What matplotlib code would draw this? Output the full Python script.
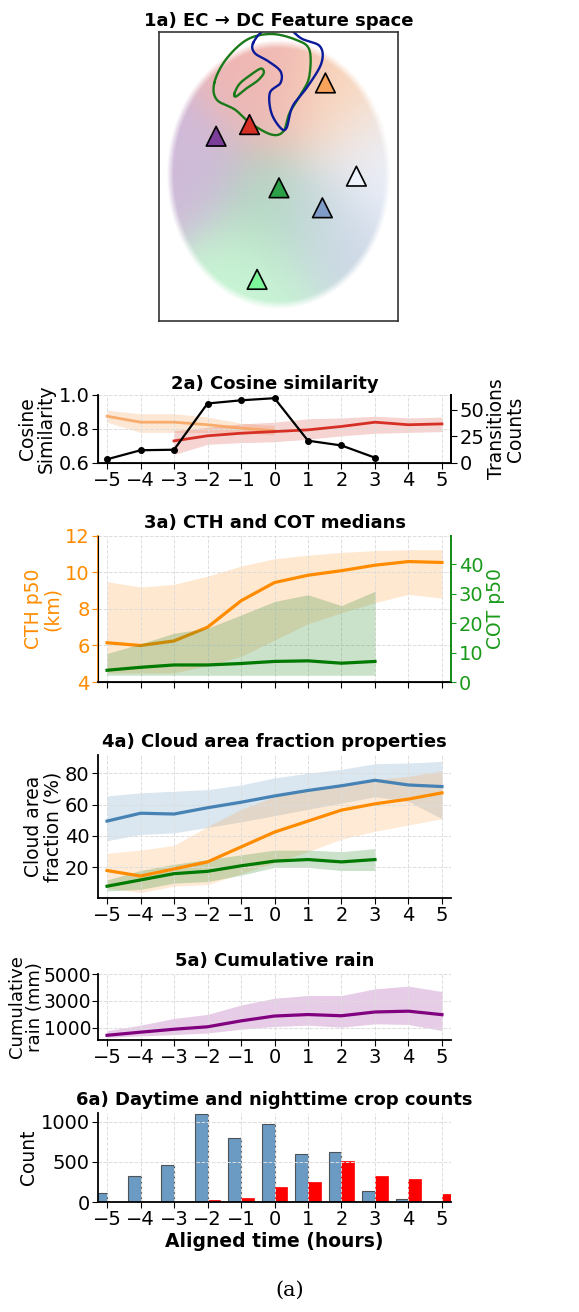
import numpy as np
import matplotlib
matplotlib.use("Agg")
import matplotlib.pyplot as plt
from matplotlib.colors import to_rgb

W, H = 579, 1312
fig = plt.figure(figsize=(W/100, H/100), dpi=100)
plt.rcParams['font.family'] = ['DejaVu Sans']
TS, TK, LB = 13, 14, 13.5

def ax_px(x0, y0, x1, y1):
    return fig.add_axes([x0/W, 1-y1/H, (x1-x0)/W, (y1-y0)/H])

hours = np.arange(-5, 6)
hours_short = np.arange(-5, 4)

# ---------------- Panel 1 data (embedding coordinates) ----------------
cluster_names = ['red', 'orange', 'purple', 'green', 'lightgreen', 'bluegray', 'lavender']
cluster_colors = ['#d9544d', '#f5a05a', '#8e5ba6', '#3a9a5a', '#7ee89a', '#8ba3c7', '#cfdcf5']
cluster_cx = [370, 570, 130, 370, 290, 520, 670]
cluster_cy = [660, 630, 440, 350, 170, 320, 490]
centroid_x = [298, 548, 188, 395, 323, 538, 650]
centroid_y = [590, 715, 555, 400, 125, 340, 435]
centroid_colors = ['#d62f26', '#f7a35c', '#7b3f99', '#2ca048', '#7df59a', '#7f9cc9', '#eef2fb']
green_contour_x = [182, 220, 290, 370, 450, 495, 495, 470, 430, 410, 370, 300, 250, 190]
green_contour_y = [715, 785, 845, 862, 845, 815, 735, 685, 625, 570, 560, 595, 635, 665]
inner_contour_x = [248, 265, 300, 335, 345, 325, 290, 255]
inner_contour_y = [682, 712, 738, 758, 745, 722, 700, 675]
blue_contour_x = [310, 350, 420, 470, 530, 535, 490, 440, 420, 400, 370, 365, 400, 400, 360, 315]
blue_contour_y = [835, 875, 880, 848, 825, 775, 705, 645, 580, 580, 625, 685, 715, 750, 780, 805]

ax1 = ax_px(159, 32, 398, 321)
gx, gy = np.meshgrid(np.linspace(0, 787, 400), np.linspace(0, 868, 440))
wts = []
for cx, cy in zip(cluster_cx, cluster_cy):
    wts.append(np.exp(-((gx-cx)**2 + (gy-cy)**2)/(2*110**2)))
wts = np.array(wts)
wsum = wts.sum(0) + 1e-9
rgb = np.zeros(gx.shape + (3,))
for k, c in enumerate(cluster_colors):
    rgb += (wts[k]/wsum)[..., None]*np.array(to_rgb(c))
r = np.sqrt(((gx-395)/370)**2 + ((gy-440)/405)**2)
alpha = np.clip((1.0-r)/0.06, 0, 1)*0.42
img = np.dstack([rgb, alpha])
ax1.imshow(img, origin='lower', extent=[0, 787, 0, 868], interpolation='bilinear', aspect='auto')

def smooth_closed(xs, ys, n=20):
    P = np.array([xs, ys]).T
    m = len(P); out = []
    for i in range(m):
        p0, p1, p2, p3 = P[i-1], P[i], P[(i+1) % m], P[(i+2) % m]
        for t in np.linspace(0, 1, n, endpoint=False):
            out.append(0.5*((2*p1) + (-p0+p2)*t + (2*p0-5*p1+4*p2-p3)*t**2 + (-p0+3*p1-3*p2+p3)*t**3))
    out.append(out[0])
    return np.array(out).T

for xs, ys, c in [(green_contour_x, green_contour_y, '#1a7a1a'), (inner_contour_x, inner_contour_y, '#1a7a1a'),
                  (blue_contour_x, blue_contour_y, '#0a1a9a')]:
    sx, sy = smooth_closed(xs, ys)
    ax1.plot(sx, sy, color=c, lw=1.7)
ax1.scatter(centroid_x, centroid_y, marker='^', s=200, c=centroid_colors, edgecolors='black', linewidths=1.2, zorder=5)
ax1.set_xlim(0, 787); ax1.set_ylim(0, 868)
ax1.set_xticks([]); ax1.set_yticks([])
for s in ax1.spines.values():
    s.set_color('#333333'); s.set_linewidth(1.2)
ax1.set_title('1a) EC → DC Feature space', fontsize=TS, fontweight='bold', pad=4)

XL = (-5.27, 5.27)
def style(ax):
    ax.set_xlim(*XL)
    ax.set_xticks(hours)
    ax.set_xticklabels([f'{h}'.replace('-', '\u2212') for h in hours])
    ax.grid(True, ls='--', color='#dddddd', lw=0.7)
    ax.spines['top'].set_visible(False)
    ax.tick_params(labelsize=TK, length=4, pad=2)
    for s in ax.spines.values():
        s.set_linewidth(1.3)

# ---------------- Panel 2 ----------------
cos_orange_x = np.arange(-5, 1)
cos_orange = [0.875, 0.84, 0.84, 0.825, 0.805, 0.79]
cos_orange_hi = [0.91, 0.89, 0.89, 0.87, 0.835, 0.82]
cos_orange_lo = [0.84, 0.78, 0.78, 0.78, 0.78, 0.765]
cos_red_x = np.arange(-3, 6)
cos_red = [0.73, 0.76, 0.775, 0.785, 0.795, 0.815, 0.84, 0.825, 0.83]
cos_red_hi = [0.79, 0.81, 0.83, 0.84, 0.86, 0.865, 0.875, 0.865, 0.87]
cos_red_lo = [0.65, 0.71, 0.72, 0.725, 0.74, 0.76, 0.775, 0.78, 0.785]
trans_counts = [3.5, 12, 12.5, 56, 59, 61, 21, 16.5, 5]

ax2 = ax_px(98, 395, 451, 463)
style(ax2)
ax2.fill_between(cos_orange_x, cos_orange_lo, cos_orange_hi, color='#f5a05a', alpha=0.25, lw=0)
ax2.plot(cos_orange_x, cos_orange, color='#f7a35c', lw=2, alpha=0.85)
ax2.fill_between(cos_red_x, cos_red_lo, cos_red_hi, color='#d9544d', alpha=0.25, lw=0)
ax2.plot(cos_red_x, cos_red, color='#d62f26', lw=2)
ax2.set_ylim(0.6, 1.0)
ax2.set_yticks([0.6, 0.8, 1.0])
ax2.set_ylabel('Cosine\nSimilarity', fontsize=LB, labelpad=2, linespacing=1.0)
ax2.set_title('2a) Cosine similarity', fontsize=TS, fontweight='bold', pad=4)
ax2b = ax2.twinx()
ax2b.plot(hours_short, trans_counts, color='black', lw=1.6, marker='o', ms=4)
ax2b.set_ylim(0, 64)
ax2b.set_yticks([0, 25, 50])
ax2b.spines['top'].set_visible(False)
ax2b.spines['right'].set_linewidth(1.3)
ax2b.tick_params(labelsize=TK, length=4, pad=2)
ax2b.set_ylabel('Transitions\nCounts', fontsize=LB, labelpad=2, linespacing=1.0)

# ---------------- Panel 3 ----------------
cth = [6.15, 6.0, 6.25, 7.0, 8.45, 9.45, 9.85, 10.1, 10.4, 10.6, 10.55]
cth_hi = [9.5, 9.2, 9.35, 9.8, 10.35, 10.75, 10.95, 11.1, 11.2, 11.25, 11.25]
cth_lo = [4.5, 4.5, 4.5, 4.9, 5.4, 6.3, 7.2, 7.8, 8.35, 8.8, 8.6]
cot = [4.0, 5.0, 5.8, 5.8, 6.3, 7.0, 7.2, 6.4, 7.0]
cot_hi = [9.7, 13.0, 16.6, 18.3, 22.8, 27.4, 29.7, 26.0, 30.9]
cot_lo = [2.3, 2.3, 2.3, 2.3, 2.3, 2.3, 2.3, 2.3, 2.3]

ax3 = ax_px(98, 536, 451, 682)
style(ax3)
ax3.fill_between(hours, cth_lo, cth_hi, color='#ffb366', alpha=0.3, lw=0)
ax3.plot(hours, cth, color='#ff8c00', lw=2.3)
ax3.set_ylim(4, 12)
ax3.set_yticks([4, 6, 8, 10, 12])
ax3.set_xticklabels([])
ax3.tick_params(axis='y', colors='#ff8c00')
ax3.spines['left'].set_color('#ff8c00')
ax3.set_ylabel('CTH p50\n(km)', color='#ff8c00', fontsize=LB, labelpad=2, linespacing=1.0)
ax3.set_title('3a) CTH and COT medians', fontsize=TS, fontweight='bold', pad=6)
ax3b = ax3.twinx()
ax3b.fill_between(hours_short, cot_lo, cot_hi, color='#2e8b2e', alpha=0.25, lw=0)
ax3b.plot(hours_short, cot, color='#007a00', lw=2.3)
ax3b.set_ylim(0, 49.7)
ax3b.set_yticks([0, 10, 20, 30, 40])
ax3b.spines['top'].set_visible(False)
ax3b.spines['right'].set_color('#1a9a1a'); ax3b.spines['right'].set_linewidth(1.3)
ax3b.tick_params(axis='y', colors='#1a9a1a', labelsize=TK, pad=2)
ax3b.set_ylabel('COT p50', color='#1a9a1a', fontsize=LB, labelpad=2)

# ---------------- Panel 4 ----------------
caf_blue = [49.5, 54.5, 54, 58, 61.5, 65.5, 69, 72, 75.5, 72.5, 71.5]
caf_blue_hi = [65.5, 67.5, 68.5, 69.5, 72.5, 77, 80, 82.5, 86, 86.5, 87.5]
caf_blue_lo = [37, 41, 42, 45.5, 49, 53, 57, 61, 65, 62, 51]
caf_orange = [18, 14.5, 19, 23.5, 33, 42.5, 49.5, 56.5, 60.5, 63.5, 67.5]
caf_orange_hi = [29, 31, 34, 46, 57, 65, 70, 72, 76, 78, 81.5]
caf_orange_lo = [7, 4, 8, 9, 16, 23, 30, 38, 43, 47, 51]
caf_green = [8, 12, 16, 17.5, 21, 24, 25, 23.5, 25]
caf_green_hi = [12, 18, 22, 25, 28, 31, 31, 30, 32]
caf_green_lo = [5, 6, 10, 11, 15, 20, 20, 18, 18]

ax4 = ax_px(98, 755, 451, 898)
style(ax4)
ax4.fill_between(hours, caf_blue_lo, caf_blue_hi, color='#4682b4', alpha=0.2, lw=0)
ax4.fill_between(hours, caf_orange_lo, caf_orange_hi, color='#ffa040', alpha=0.22, lw=0)
ax4.fill_between(hours_short, caf_green_lo, caf_green_hi, color='#2e8b2e', alpha=0.25, lw=0)
ax4.plot(hours, caf_blue, color='#4682b4', lw=2.3)
ax4.plot(hours, caf_orange, color='#ff8c00', lw=2.3)
ax4.plot(hours_short, caf_green, color='#007a00', lw=2.3)
ax4.set_ylim(0.5, 91.6)
ax4.set_yticks([20, 40, 60, 80])
ax4.spines['right'].set_visible(False)
ax4.set_ylabel('Cloud area\nfraction (%)', fontsize=LB, labelpad=2, linespacing=1.0)
ax4.set_title('4a) Cloud area fraction properties', fontsize=TS, fontweight='bold', pad=6)

# ---------------- Panel 5 ----------------
rain = [450, 680, 900, 1080, 1520, 1880, 1990, 1900, 2180, 2240, 1980]
rain_hi = [800, 1200, 1700, 2000, 2700, 3200, 3400, 3400, 3900, 4100, 3700]
rain_lo = [300, 400, 500, 620, 900, 1100, 1200, 1050, 1300, 1250, 800]

ax5 = ax_px(98, 974, 451, 1040)
style(ax5)
ax5.fill_between(hours, rain_lo, rain_hi, color='#8b008b', alpha=0.2, lw=0)
ax5.plot(hours, rain, color='#800080', lw=2.3)
ax5.set_ylim(100, 5000)
ax5.set_yticks([1000, 3000, 5000])
ax5.tick_params(axis='y', labelsize=13.5, pad=1)
ax5.spines['right'].set_visible(False)
ax5.set_ylabel('Cumulative\nrain (mm)', fontsize=13, labelpad=0, linespacing=0.95)
ax5.set_title('5a) Cumulative rain', fontsize=TS, fontweight='bold', pad=6)

# ---------------- Panel 6 ----------------
day_counts = [110, 330, 460, 1100, 800, 975, 600, 620, 140, 40, 0]
night_counts = [0, 0, 0, 25, 55, 185, 255, 510, 320, 285, 105]

ax6 = ax_px(98, 1113, 451, 1202)
style(ax6)
ax6.bar(hours, day_counts, width=-0.38, align='edge', color='#4682b4', alpha=0.8, edgecolor='#333333', linewidth=0.8)
ax6.bar(hours, night_counts, width=0.38, align='edge', color='#ff0000', edgecolor='#ff0000', linewidth=0.5)
ax6.set_ylim(0, 1110)
ax6.set_yticks([0, 500, 1000])
ax6.spines['right'].set_visible(False)
ax6.set_ylabel('Count', fontsize=LB, labelpad=2)
ax6.set_xlabel('Aligned time (hours)', fontsize=TS+0.5, fontweight='bold', labelpad=2)
ax6.set_title('6a) Daytime and nighttime crop counts', fontsize=TS, fontweight='bold', pad=6)

fig.text(0.5, 1-1290/H, '(a)', ha='center', va='center', fontsize=15, family='DejaVu Serif')

fig.savefig('out.png', dpi=100)
